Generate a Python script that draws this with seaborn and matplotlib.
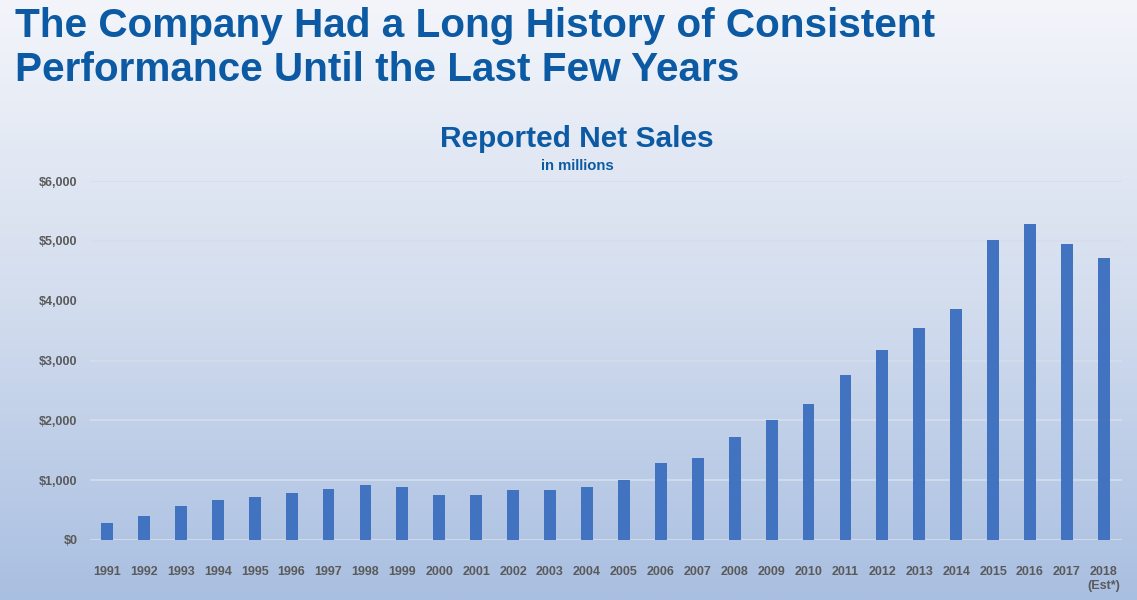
import numpy as np
import pandas as pd
import matplotlib
matplotlib.use("Agg")
import matplotlib.pyplot as plt
from matplotlib.colors import LinearSegmentedColormap
import seaborn as sns

years = ["1991", "1992", "1993", "1994", "1995", "1996", "1997", "1998", "1999", "2000",
         "2001", "2002", "2003", "2004", "2005", "2006", "2007", "2008", "2009", "2010",
         "2011", "2012", "2013", "2014", "2015", "2016", "2017", "2018\n(Est*)"]
net_sales = [278, 406, 567, 667, 717, 778, 856, 911, 894, 744,
             750, 828, 833, 894, 1006, 1289, 1367, 1728, 2000, 2270,
             2755, 3173, 3541, 3854, 5014, 5282, 4947, 4713]
y_ticks = [0, 1000, 2000, 3000, 4000, 5000, 6000]

df = pd.DataFrame({"year": years, "sales": net_sales})

sns.set_style("white")
plt.rcParams["font.family"] = ["Liberation Sans", "DejaVu Sans"]

fig = plt.figure(figsize=(11.37, 6), dpi=100)

# background gradient
bg = fig.add_axes([0, 0, 1, 1], zorder=-10)
grad = np.linspace(0, 1, 256).reshape(-1, 1)
cmap = LinearSegmentedColormap.from_list("bg", ["#F3F5FA", "#D3DDEE", "#A9BFE1"])
bg.imshow(grad, aspect="auto", cmap=cmap, extent=[0, 1, 0, 1], origin="upper")
bg.set_axis_off()

ax = fig.add_axes([90 / 1137, 1 - 540 / 600, (1122 - 90) / 1137, (540 - 181) / 600])
ax.patch.set_alpha(0)
sns.barplot(data=df, x="year", y="sales", color="#4273C1", width=0.32,
            saturation=1, linewidth=0, ax=ax, zorder=3)

ax.set_ylim(0, 6000)
ax.set_xlim(-0.46, 27.49)
ax.set_yticks(y_ticks)
ax.set_yticklabels(["${:,}".format(v) for v in y_ticks])
ax.yaxis.grid(True, color="#D6DEEC", linewidth=1.2, zorder=0)
ax.set_axisbelow(True)
ax.set_xlabel("")
ax.set_ylabel("")
for s in ax.spines.values():
    s.set_visible(False)
ax.tick_params(axis="both", length=0, labelsize=9, labelcolor="#5A5A5A")
ax.tick_params(axis="x", pad=19)
ax.tick_params(axis="y", pad=9)
for lbl in ax.get_xticklabels() + ax.get_yticklabels():
    lbl.set_fontweight("bold")

title_color = "#0B5AA3"
fig.text(15 / 1137, 1 - 37 / 600, "The Company Had a Long History of Consistent",
         ha="left", va="baseline", fontsize=29.2, fontweight="bold", color=title_color)
fig.text(15 / 1137, 1 - 81 / 600, "Performance Until the Last Few Years",
         ha="left", va="baseline", fontsize=29.2, fontweight="bold", color=title_color)
fig.text(577 / 1137, 1 - 147 / 600, "Reported Net Sales", ha="center", va="baseline",
         fontsize=21.5, fontweight="bold", color=title_color)
fig.text(577 / 1137, 1 - 169.5 / 600, "in millions", ha="center", va="baseline",
         fontsize=10.7, fontweight="bold", color=title_color)

fig.savefig("out.png", dpi=100)
